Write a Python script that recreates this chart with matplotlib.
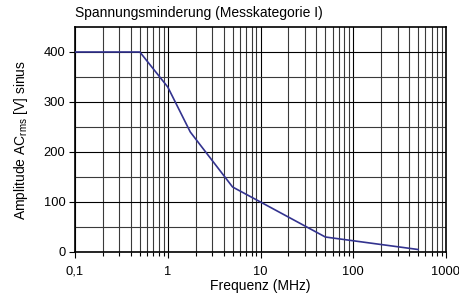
import matplotlib
matplotlib.use("Agg")
import matplotlib.pyplot as plt
from matplotlib.ticker import FixedLocator, LogLocator, NullFormatter

plt.rcParams['font.family'] = ['Liberation Sans', 'DejaVu Sans']

# derating curve
freq_mhz = [0.1, 0.5, 1, 1.75, 5, 10, 50, 500]
volts = [400, 400, 330, 240, 130, 100, 30, 5]

x_ticks = [0.1, 1, 10, 100, 1000]
x_labels = ["0,1", "1", "10", "100", "1000"]
y_ticks = [0, 100, 200, 300, 400]

fig = plt.figure(figsize=(4.59, 3.01), dpi=100)
ax = fig.add_axes([75 / 459, 49 / 301, 371 / 459, 225 / 301])

ax.plot(freq_mhz, volts, color='#33338f', linewidth=1.2, zorder=3)

ax.set_xscale('log')
ax.set_xlim(0.1, 1000)
ax.set_ylim(0, 450)

ax.xaxis.set_major_locator(FixedLocator(x_ticks))
ax.set_xticklabels(x_labels)
ax.xaxis.set_minor_locator(LogLocator(base=10, subs=range(2, 10)))
ax.xaxis.set_minor_formatter(NullFormatter())
ax.set_yticks(y_ticks)
ax.yaxis.set_minor_locator(FixedLocator([50, 150, 250, 350]))

ax.grid(True, which='major', color='black', linewidth=0.8)
ax.grid(True, which='minor', color='#3a3a3a', linewidth=0.8)
ax.tick_params(axis='both', which='major', direction='out', length=4, width=0.8,
               labelsize=9.3, colors='black', pad=3)
ax.tick_params(axis='x', which='major', pad=6)
ax.tick_params(axis='x', which='minor', direction='out', length=3, width=0.8)
ax.tick_params(axis='y', which='minor', length=0)
for s in ax.spines.values():
    s.set_linewidth(1.2)

ax.set_xlabel("Frequenz (MHz)", fontsize=10, labelpad=1)
ax.set_ylabel("Amplitude AC$_{\\mathregular{rms}}$ [V] sinus", fontsize=10, labelpad=10)
fig.text(75 / 459, 1 - 13 / 301, "Spannungsminderung (Messkategorie I)",
         fontsize=10, ha='left', va='center')

fig.savefig("out.png", dpi=100)
